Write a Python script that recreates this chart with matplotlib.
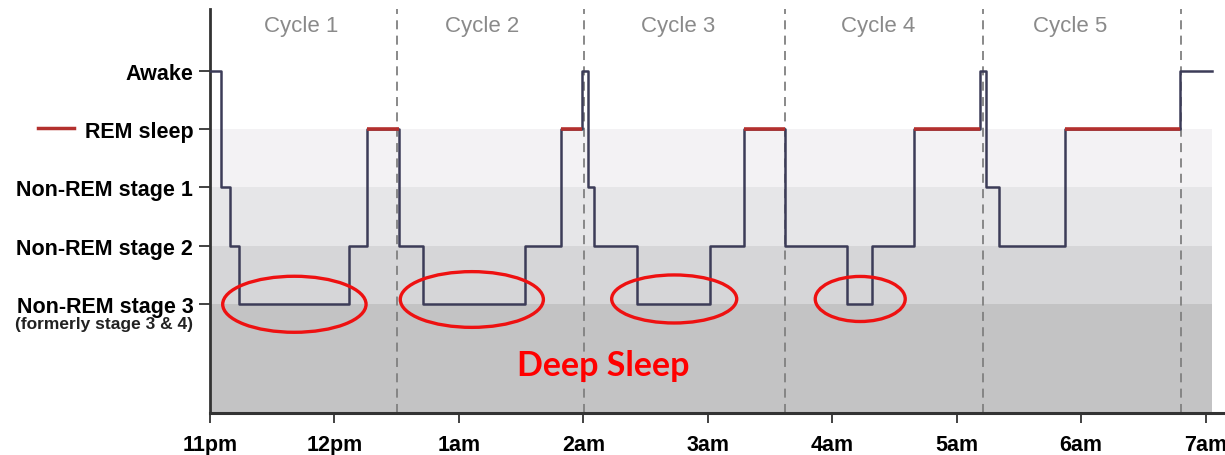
import matplotlib.pyplot as plt
from matplotlib.patches import Ellipse
from matplotlib.lines import Line2D

# stage levels (Awake at top)
levels = [4, 3, 2, 1, 0]
level_labels = ['Awake', 'REM sleep', 'Non-REM stage 1', 'Non-REM stage 2', 'Non-REM stage 3']

# hours after 11pm where the stage changes, and the stage held from that time
t_change = [0, 0.088, 0.161, 0.236, 1.117, 1.260, 1.522, 1.715, 2.532, 2.819,
            2.988, 3.041, 3.087, 3.435, 4.019, 4.287, 4.622, 5.118, 5.319, 5.654,
            6.190, 6.238, 6.337, 6.873, 7.797, 8.052]
stage = [4, 2, 1, 0, 1, 3, 1, 0, 1, 3,
         4, 2, 1, 0, 1, 3, 1, 0, 1, 3,
         4, 2, 1, 3, 4]

hour_labels = ['11pm', '12pm', '1am', '2am', '3am', '4am', '5am', '6am', '7am']
cycle_bounds = [1.503, 3.006, 4.622, 6.214, 7.806]
cycle_names = ['Cycle 1', 'Cycle 2', 'Cycle 3', 'Cycle 4', 'Cycle 5']
cycle_mid = [0.73, 2.19, 3.76, 5.37, 6.91]

# deep sleep highlights: centre x, centre y, width, height
deep_x = [0.678, 2.104, 3.730, 5.225]
deep_y = [-0.005, 0.077, 0.086, 0.086]
deep_w = [1.152, 1.150, 1.005, 0.723]
deep_h = [0.961, 0.956, 0.824, 0.773]

ymin, ymax = -1.87, 5.06
xmax = 8.14
band_end = 8.055

fig = plt.figure(figsize=(12.25, 4.56), dpi=100)
ax = fig.add_axes([210/1225, 1-414/456, 1013/1225, 404/456])

# shaded bands
band_cols = ['#f3f2f4', '#e6e6e8', '#d6d6d8', '#c3c3c4']
band_lims = [(2, 3), (1, 2), (0, 1), (ymin, 0)]
for (lo, hi), c in zip(band_lims, band_cols):
    ax.fill_between([0, band_end], lo, hi, color=c, lw=0, zorder=0)

for b in cycle_bounds:
    ax.axvline(b, color='#808080', lw=1.3, ls=(0, (5, 3.5)), zorder=1)

for name, xm in zip(cycle_names, cycle_mid):
    ax.text(xm, 4.77, name, ha='center', va='center', fontsize=16,
            color='#8a8a8a', family='Liberation Sans')

ax.step(t_change, stage + [stage[-1]], where='post', color='#3c3c58', lw=1.8, zorder=3)

# REM segments in red
for i, s in enumerate(stage):
    if s == 3:
        ax.plot([t_change[i], t_change[i+1]], [3, 3], color='#b3302e', lw=2.6,
                solid_capstyle='butt', zorder=4)

for cx, cy, w, h in zip(deep_x, deep_y, deep_w, deep_h):
    ax.add_patch(Ellipse((cx, cy), w, h, fill=False, ec='#ee1111', lw=2.4, zorder=5))

ax.text(3.16, -1.05, 'Deep Sleep', ha='center', va='center', fontsize=24.5,
        fontweight='bold', color='#ff0000', family='Lato')

ax.set_xlim(0, xmax)
ax.set_ylim(ymin, ymax)
ax.set_xticks(range(len(hour_labels)))
ax.set_xticklabels(hour_labels)
ax.set_yticks(levels)
ax.set_yticklabels(level_labels)
for lab in ax.get_xticklabels():
    lab.set_fontsize(15.5)
    lab.set_fontweight('bold')
    lab.set_family('Liberation Sans')
for lab in ax.get_yticklabels():
    lab.set_fontsize(15.5)
    lab.set_fontweight('bold')
    lab.set_family('Liberation Sans')
ax.tick_params(axis='x', direction='out', length=7, width=1.3, color='#333333', pad=8)
ax.tick_params(axis='y', direction='out', length=8, width=1.3, color='#333333', pad=4)

for sp in ['top', 'right']:
    ax.spines[sp].set_visible(False)
ax.spines['left'].set_color('#333333')
ax.spines['left'].set_linewidth(2)
ax.spines['bottom'].set_color('#333333')
ax.spines['bottom'].set_linewidth(2.2)

fig.text(193/1225, 1-325/456, '(formerly stage 3 & 4)', ha='right', va='center',
         fontsize=12.5, fontweight='bold', color='#222222', family='Liberation Sans')
fig.add_artist(Line2D([38/1225, 74/1225], [1-129/456, 1-129/456], color='#b3302e', lw=2.5))

fig.savefig('out.png', dpi=100)
